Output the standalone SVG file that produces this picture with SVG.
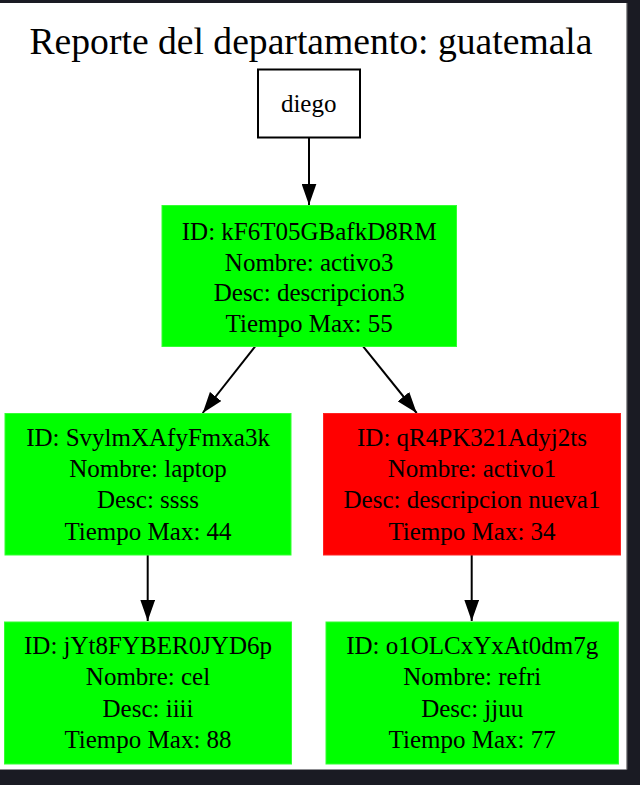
<svg xmlns="http://www.w3.org/2000/svg" width="640" height="785" viewBox="0 0 640 785">
  <style>
    text { font-family: "Liberation Serif", "Times New Roman", serif; fill: #000; text-anchor: middle; }
    .title { font-size: 37px; }
    .lbl { font-size: 25px; }
    .green { fill: #00ff00; stroke: #33ff33; stroke-width: 1; }
    .red { fill: #ff0000; stroke: #ff2222; stroke-width: 1; }
    .plain { fill: #ffffff; stroke: #000; stroke-width: 2; }
    .edge { stroke: #000; stroke-width: 2; fill: none; marker-end: url(#arrow); }
  </style>
  <defs>
    <marker id="arrow" viewBox="0 0 10 7" refX="10" refY="3.5" markerWidth="21" markerHeight="15" markerUnits="userSpaceOnUse" orient="auto">
      <path d="M0,0 L10,3.5 L0,7 z" fill="#000"/>
    </marker>
  </defs>
  <rect x="0" y="0" width="640" height="785" fill="#1a1b23"/>
  <rect x="0" y="3" width="626.5" height="766.5" fill="#ffffff"/>
  <line x1="626.8" y1="3" x2="626.8" y2="769.5" stroke="#9a9a9a" stroke-width="1"/>

  <text class="title" x="311" y="54.3" textLength="563" lengthAdjust="spacingAndGlyphs">Reporte del departamento: guatemala</text>

  <g id="connectors">
    <line class="edge" x1="309" y1="138" x2="309" y2="205"/>
    <line class="edge" x1="255" y1="346.7" x2="202.7" y2="413"/>
    <line class="edge" x1="363.3" y1="346.7" x2="416.7" y2="413"/>
    <line class="edge" x1="147.7" y1="555" x2="147.7" y2="621"/>
    <line class="edge" x1="471.7" y1="555" x2="471.7" y2="621"/>
  </g>

  <g id="diego">
    <rect class="plain" x="258" y="69.5" width="102" height="68"/>
    <text class="lbl" x="308.7" y="111.7">diego</text>
  </g>

  <g id="kF6T05GBafkD8RM">
    <rect class="green" x="162" y="205.5" width="294.5" height="141"/>
    <text class="lbl" x="309.2" y="240">ID: kF6T05GBafkD8RM</text>
    <text class="lbl" x="309.2" y="270.6">Nombre: activo3</text>
    <text class="lbl" x="309.2" y="301.2">Desc: descripcion3</text>
    <text class="lbl" x="309.2" y="331.8">Tiempo Max: 55</text>
  </g>

  <g id="SvylmXAfyFmxa3k">
    <rect class="green" x="5" y="413.5" width="286" height="141.5"/>
    <text class="lbl" x="148" y="446">ID: SvylmXAfyFmxa3k</text>
    <text class="lbl" x="148" y="477.2">Nombre: laptop</text>
    <text class="lbl" x="148" y="508.4">Desc: ssss</text>
    <text class="lbl" x="148" y="539.6">Tiempo Max: 44</text>
  </g>

  <g id="qR4PK321Adyj2ts">
    <rect class="red" x="323.5" y="413.5" width="297" height="141.5"/>
    <text class="lbl" x="472" y="446">ID: qR4PK321Adyj2ts</text>
    <text class="lbl" x="472" y="477.2">Nombre: activo1</text>
    <text class="lbl" x="472" y="508.4">Desc: descripcion nueva1</text>
    <text class="lbl" x="472" y="539.6">Tiempo Max: 34</text>
  </g>

  <g id="jYt8FYBER0JYD6p">
    <rect class="green" x="4.5" y="622" width="287" height="142"/>
    <text class="lbl" x="148" y="654.2">ID: jYt8FYBER0JYD6p</text>
    <text class="lbl" x="148" y="685.4">Nombre: cel</text>
    <text class="lbl" x="148" y="716.6">Desc: iiii</text>
    <text class="lbl" x="148" y="747.8">Tiempo Max: 88</text>
  </g>

  <g id="o1OLCxYxAt0dm7g">
    <rect class="green" x="326" y="622" width="292.5" height="142"/>
    <text class="lbl" x="472.2" y="654.2">ID: o1OLCxYxAt0dm7g</text>
    <text class="lbl" x="472.2" y="685.4">Nombre: refri</text>
    <text class="lbl" x="472.2" y="716.6">Desc: jjuu</text>
    <text class="lbl" x="472.2" y="747.8">Tiempo Max: 77</text>
  </g>
</svg>
